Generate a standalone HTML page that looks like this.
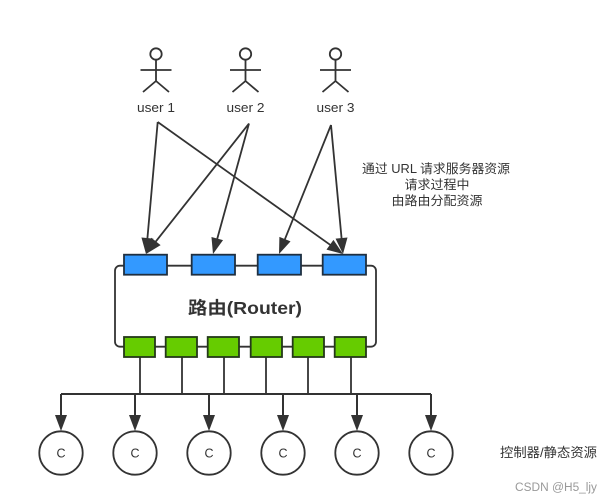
<!DOCTYPE html>
<html>
<head>
<meta charset="utf-8">
<style>
html,body{margin:0;padding:0;background:#fff;width:607px;height:503px;overflow:hidden}
svg{display:block}
text{font-family:"Liberation Sans","Noto Sans CJK SC",sans-serif;fill:#333;text-anchor:middle}
</style>
</head>
<body>
<svg width="607" height="503" viewBox="0 0 607 503" xmlns="http://www.w3.org/2000/svg">
<defs>
<g id="actor" fill="none" stroke="#333" stroke-width="1.800">
<circle cx="0" cy="54" r="5.700"/>
<path d="M0 60V81M-15.500 70H15.500M-13 92L0 81L13 92"/>
</g>
<path id="ah" d="M0 0L-6 -16L6 -16Z" fill="#333"/>
</defs>
<use href="#actor" x="156"/><use href="#actor" x="245.500"/><use href="#actor" x="335.500"/>
<g font-size="13">
<text x="156" y="112" textLength="38" lengthAdjust="spacingAndGlyphs">user 1</text>
<text x="245.500" y="112" textLength="38" lengthAdjust="spacingAndGlyphs">user 2</text>
<text x="335.500" y="112" textLength="38" lengthAdjust="spacingAndGlyphs">user 3</text>
</g>
<rect x="115" y="265.700" width="261" height="81" rx="5" fill="#fff" stroke="#333" stroke-width="1.800"/>
<g stroke="#333" stroke-width="1.800" fill="none">
<path d="M157.700 122L146.900 244M157.700 122L334.900 248.200M249 123.500L152.200 246.100M249 123.500L215.700 244.400M331 125L282.700 244.700M331 125L342.100 244"/>
<path d="M140 357V394M182 357V394M224 357V394M266 357V394M308 357V394M351 357V394"/>
<path d="M61 394H431M61 394V418M135 394V418M209 394V418M283 394V418M357 394V418M431 394V418" stroke-width="2"/>
</g>
<g fill="#333">
<use href="#ah" transform="translate(146 254) rotate(5.100)"/>
<use href="#ah" transform="translate(343 254) rotate(-54.500)"/>
<use href="#ah" transform="translate(146 254) rotate(38.300)"/>
<use href="#ah" transform="translate(213 254) rotate(15.400)"/>
<use href="#ah" transform="translate(279 254) rotate(21.900)"/>
<use href="#ah" transform="translate(343 254) rotate(-5.300)"/>
<use href="#ah" x="61" y="431"/><use href="#ah" x="135" y="431"/><use href="#ah" x="209" y="431"/>
<use href="#ah" x="283" y="431"/><use href="#ah" x="357" y="431"/><use href="#ah" x="431" y="431"/>
</g>
<g fill="#3399ff" stroke="#1f2f40" stroke-width="1.800">
<rect x="124" y="254.700" width="43" height="20"/>
<rect x="191.700" y="254.700" width="43.300" height="20"/>
<rect x="257.700" y="254.700" width="43.300" height="20"/>
<rect x="322.700" y="254.700" width="43.300" height="20"/>
</g>
<g fill="#66cc00" stroke="#24381a" stroke-width="1.800">
<rect x="124" y="337" width="31" height="20"/>
<rect x="165.700" y="337" width="31.300" height="20"/>
<rect x="207.700" y="337" width="31.300" height="20"/>
<rect x="250.700" y="337" width="31.300" height="20"/>
<rect x="292.700" y="337" width="31.300" height="20"/>
<rect x="334.700" y="337" width="31.300" height="20"/>
</g>
<text x="245" y="314" font-size="17.500" font-weight="bold" textLength="114" lengthAdjust="spacingAndGlyphs">路由(Router)</text>
<g font-size="12.500">
<text x="436" y="173" textLength="148" lengthAdjust="spacingAndGlyphs">通过 URL 请求服务器资源</text>
<text x="437" y="189" textLength="65" lengthAdjust="spacingAndGlyphs">请求过程中</text>
<text x="437" y="205" textLength="91" lengthAdjust="spacingAndGlyphs">由路由分配资源</text>
</g>
<g fill="#fff" stroke="#333" stroke-width="1.800">
<circle cx="61" cy="453" r="21.700"/><circle cx="135" cy="453" r="21.700"/><circle cx="209" cy="453" r="21.700"/>
<circle cx="283" cy="453" r="21.700"/><circle cx="357" cy="453" r="21.700"/><circle cx="431" cy="453" r="21.700"/>
</g>
<g font-size="12.500">
<text x="61" y="457.500">C</text><text x="135" y="457.500">C</text><text x="209" y="457.500">C</text>
<text x="283" y="457.500">C</text><text x="357" y="457.500">C</text><text x="431" y="457.500">C</text>
</g>
<text x="548.500" y="457" font-size="13" textLength="97" lengthAdjust="spacingAndGlyphs">控制器/静态资源</text>
<text x="556" y="491" font-size="11.500" textLength="82" lengthAdjust="spacingAndGlyphs" style="fill:#999">CSDN @H5_ljy</text>
</svg>
</body>
</html>
